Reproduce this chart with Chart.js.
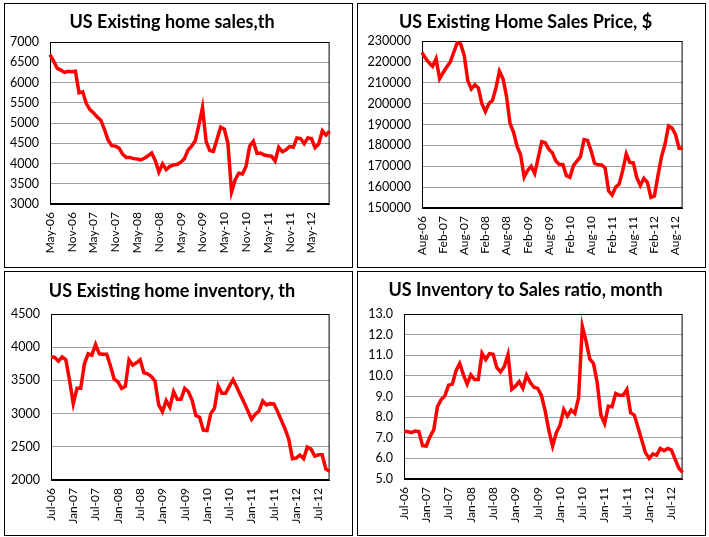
<!DOCTYPE html>
<html>
<head>
<meta charset="utf-8">
<script src="https://cdn.jsdelivr.net/npm/chart.js@4.4.0/dist/chart.umd.min.js"></script>
<style>
  html, body { margin: 0; padding: 0; background: #fff; }
  .panel { position: absolute; border: 1px solid #000; box-sizing: border-box; width: 349px; height: 265px; }
</style>
</head>
<body>
<div class="panel" style="left:4px;top:3px"><canvas id="sales"></canvas></div>
<div class="panel" style="left:357px;top:3px"><canvas id="price"></canvas></div>
<div class="panel" style="left:4px;top:271px"><canvas id="inventory"></canvas></div>
<div class="panel" style="left:357px;top:271px"><canvas id="ratio"></canvas></div>
<script>
// Month labels, May-06 .. Oct-12 (each chart takes its own slice)
const months = [
  'May-06','Jun-06','Jul-06','Aug-06','Sep-06','Oct-06','Nov-06','Dec-06',
  'Jan-07','Feb-07','Mar-07','Apr-07','May-07','Jun-07','Jul-07','Aug-07','Sep-07','Oct-07','Nov-07','Dec-07',
  'Jan-08','Feb-08','Mar-08','Apr-08','May-08','Jun-08','Jul-08','Aug-08','Sep-08','Oct-08','Nov-08','Dec-08',
  'Jan-09','Feb-09','Mar-09','Apr-09','May-09','Jun-09','Jul-09','Aug-09','Sep-09','Oct-09','Nov-09','Dec-09',
  'Jan-10','Feb-10','Mar-10','Apr-10','May-10','Jun-10','Jul-10','Aug-10','Sep-10','Oct-10','Nov-10','Dec-10',
  'Jan-11','Feb-11','Mar-11','Apr-11','May-11','Jun-11','Jul-11','Aug-11','Sep-11','Oct-11','Nov-11','Dec-11',
  'Jan-12','Feb-12','Mar-12','Apr-12','May-12','Jun-12','Jul-12','Aug-12','Sep-12','Oct-12'
];
const salesMonths = months;              // May-06 .. Oct-12
const priceMonths = months.slice(3);     // Aug-06 .. Oct-12
const inventoryMonths = months.slice(2); // Jul-06 .. Oct-12

// US existing home sales, th
const salesTh = [
  6690, 6530, 6350, 6305, 6250, 6275, 6265, 6280, 5745, 5770,
  5480, 5330, 5250, 5150, 5070, 4840, 4580, 4440, 4430, 4380,
  4230, 4150, 4150, 4120, 4110, 4090, 4130, 4190, 4260, 4070,
  3790, 3990, 3850, 3930, 3960, 3980, 4030, 4120, 4330, 4430,
  4560, 4950, 5380, 4540, 4320, 4300, 4600, 4900, 4850, 4500,
  3300, 3600, 3760, 3740, 3930, 4430, 4550, 4250, 4260, 4210,
  4190, 4180, 4060, 4400, 4290, 4340, 4420, 4400, 4630, 4615,
  4490, 4630, 4615, 4390, 4480, 4810, 4700, 4800
];

// US existing home sales price, $
const priceUsd = [
  224500, 221700, 219500, 217900, 221500, 211900, 214800, 217500, 219800, 224500,
  229200, 228500, 223000, 211000, 207000, 209000, 207500, 200000, 196200, 200000,
  201500, 207500, 215500, 211900, 203500, 190500, 186300, 179500, 175500, 164800,
  168000, 170000, 166500, 174000, 181800, 181300, 178200, 176500, 172500, 170800,
  170800, 165500, 164700, 170300, 172500, 174600, 182800, 182400, 177500, 171400,
  170700, 170600, 169200, 158100, 156200, 160000, 161500, 168000, 175900, 171800,
  171600, 164500, 160800, 164200, 162300, 155100, 155800, 165500, 174500, 180500,
  189300, 188300, 185200, 178600, 178600
];

// US existing home inventory, th
const inventoryTh = [
  3855, 3845, 3790, 3855, 3810, 3500, 3150, 3380, 3380, 3750,
  3900, 3880, 4040, 3900, 3895, 3895, 3720, 3520, 3480, 3380,
  3410, 3810, 3730, 3765, 3810, 3615, 3600, 3560, 3490, 3130,
  3030, 3195, 3095, 3330, 3215, 3215, 3380, 3330, 3200, 2970,
  2945, 2750, 2745, 3000, 3080, 3415, 3305, 3305, 3410, 3510,
  3400, 3280, 3165, 3040, 2915, 2990, 3040, 3190, 3130, 3150,
  3145, 3030, 2900, 2770, 2615, 2320, 2330, 2375, 2320, 2495,
  2465, 2360, 2380, 2380, 2165, 2130
];

// US inventory to sales ratio, months
const ratioMonths = [
  7.30, 7.30, 7.25, 7.33, 7.30, 6.62, 6.60, 7.05, 7.38, 8.50,
  8.85, 9.03, 9.55, 9.60, 10.25, 10.60, 10.05, 9.60, 10.05, 9.82,
  9.82, 11.10, 10.79, 11.08, 11.05, 10.40, 10.19, 10.45, 11.03, 9.35,
  9.50, 9.72, 9.40, 10.03, 9.68, 9.45, 9.39, 9.05, 8.30, 7.35,
  6.60, 7.24, 7.61, 8.37, 8.05, 8.35, 8.18, 8.95, 12.40, 11.70,
  10.82, 10.60, 9.70, 8.10, 7.69, 8.53, 8.50, 9.15, 9.06, 9.06,
  9.34, 8.21, 8.10, 7.50, 6.89, 6.27, 6.00, 6.21, 6.16, 6.48,
  6.37, 6.48, 6.40, 5.95, 5.52, 5.32
];

const FONT = 'Lato, "Open Sans", sans-serif';

// Excel-style black box round the plot area
const plotFrame = {
  id: 'plotFrame',
  beforeDatasetsDraw(chart) {
    const a = chart.chartArea;
    const ctx = chart.ctx;
    ctx.save();
    ctx.strokeStyle = '#000';
    ctx.lineWidth = 1;
    ctx.strokeRect(a.left + 0.5, a.top + 0.5, a.right - a.left - 1, a.bottom - a.top - 1);
    ctx.restore();
  }
};

function makeChart(id, cfg) {
  return new Chart(document.getElementById(id), {
    type: 'line',
    data: {
      labels: cfg.labels,
      datasets: [{
        data: cfg.values,
        borderColor: '#ff0000',
        borderWidth: 3.5,
        pointRadius: 0,
        tension: 0,
        fill: false
      }]
    },
    options: {
      responsive: true,
      maintainAspectRatio: false,
      animation: false,
      layout: { padding: { left: 0, right: cfg.padRight, top: 0, bottom: 0 } },
      plugins: {
        legend: { display: false },
        tooltip: { enabled: false },
        title: {
          display: true,
          text: cfg.title,
          color: '#000',
          font: { family: FONT, size: 18, weight: 'bold', lineHeight: 1.2 },
          padding: { top: cfg.titleTop, bottom: cfg.titleBottom }
        }
      },
      scales: {
        x: {
          grid: { display: false, drawTicks: false },
          border: { display: true, color: '#000' },
          ticks: {
            autoSkip: false,
            minRotation: 90,
            maxRotation: 90,
            padding: 8,
            color: '#000',
            font: { family: FONT, size: 12 },
            callback: (v, i) => (i % 6 === 0 ? cfg.labels[i] : '')
          },
          afterFit: s => { s.height = cfg.xHeight; }
        },
        y: {
          min: cfg.min,
          max: cfg.max,
          grid: { color: '#a0a0a0', drawTicks: false },
          border: { display: true, color: '#000' },
          ticks: {
            stepSize: cfg.step,
            padding: 11,
            color: '#000',
            font: { family: FONT, size: 12.5 },
            callback: v => cfg.fmt(v)
          },
          afterFit: s => { s.width = cfg.yWidth; }
        }
      }
    },
    plugins: [plotFrame]
  });
}

makeChart('sales', {
  title: 'US Existing home sales,th', labels: salesMonths, values: salesTh,
  min: 3000, max: 7000, step: 500, fmt: v => String(v),
  yWidth: 45, padRight: 13, xHeight: 63, titleTop: 7, titleBottom: 9.4
});
makeChart('price', {
  title: 'US Existing Home Sales Price, $', labels: priceMonths, values: priceUsd,
  min: 150000, max: 230000, step: 10000, fmt: v => String(v),
  yWidth: 64, padRight: 12, xHeight: 59, titleTop: 7, titleBottom: 8.4
});
makeChart('inventory', {
  title: 'US Existing home inventory, th', labels: inventoryMonths, values: inventoryTh,
  min: 2000, max: 4500, step: 500, fmt: v => String(v),
  yWidth: 46, padRight: 13, xHeight: 55, titleTop: 8, titleBottom: 12.4
});
makeChart('ratio', {
  title: 'US Inventory to Sales ratio, month', labels: inventoryMonths, values: ratioMonths,
  min: 5, max: 13, step: 1, fmt: v => v.toFixed(1),
  yWidth: 46, padRight: 12, xHeight: 56, titleTop: 7, titleBottom: 13.4
});
</script>
</body>
</html>
